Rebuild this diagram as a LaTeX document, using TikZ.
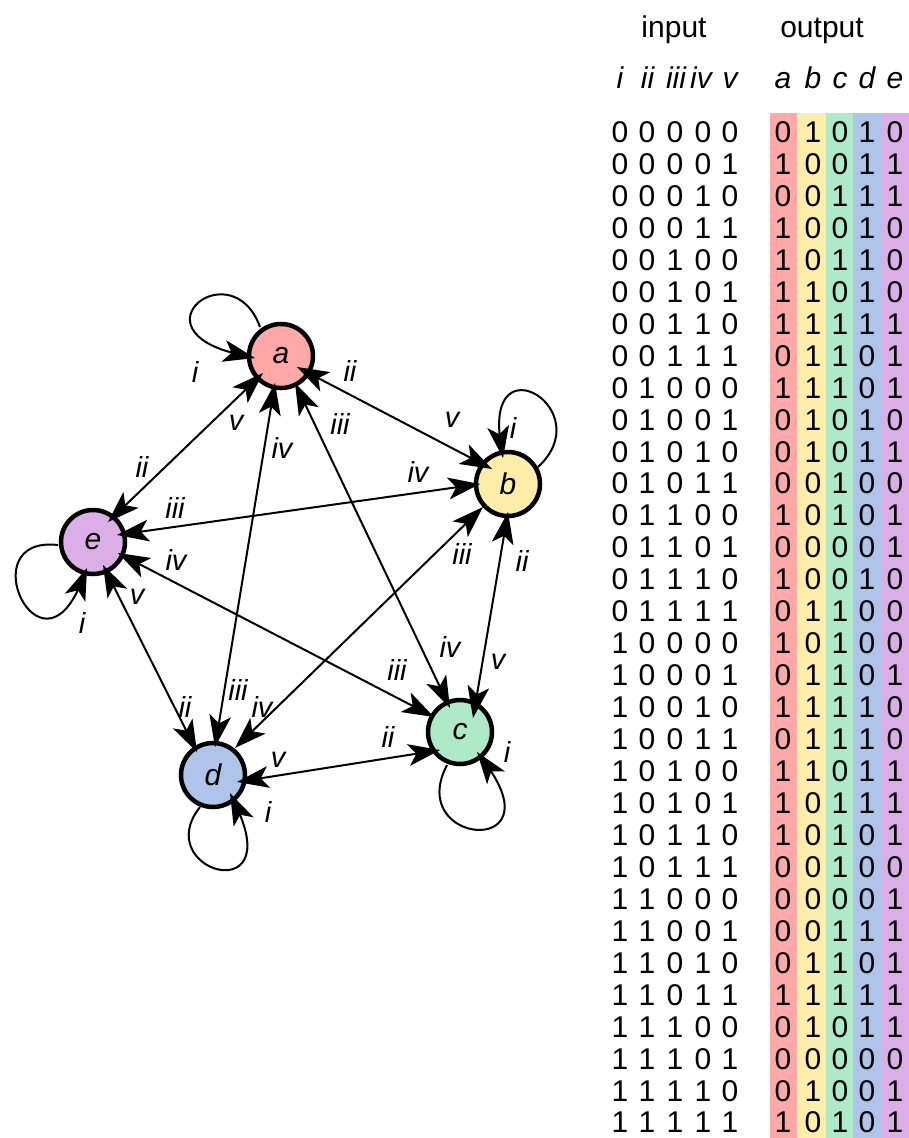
\documentclass[tikz,border=0pt]{standalone}
\usepackage{fontspec}
\setmainfont{Liberation Sans}
\usetikzlibrary{calc}
\definecolor{cA}{RGB}{255,168,168}
\definecolor{cB}{RGB}{255,237,170}
\definecolor{cC}{RGB}{174,234,200}
\definecolor{cD}{RGB}{174,196,232}
\definecolor{cE}{RGB}{220,174,232}
% filled stealth-like head: tip at #1, pointing away from #2
\newcommand\ahd[2]{%
  \path ($(#1)!32pt!(#2)$) coordinate (ahB) ($(#1)!24pt!(#2)$) coordinate (ahN);
  \fill[line join=miter] ($(ahB)!11pt!90:(#1)$) -- (#1) -- ($(ahB)!11pt!-90:(#1)$) -- (ahN) -- cycle;}
\tikzset{
  state/.style={circle,draw,line width=4.5pt,minimum size=64pt,inner sep=0pt,font=\fontsize{30}{33}\selectfont\itshape},
  lab/.style={inner sep=0pt,font=\fontsize{29}{32}\selectfont\itshape},
  edge/.style={line width=2pt,shorten <=16pt,shorten >=16pt},
  loopedge/.style={line width=2pt,shorten >=16pt},
  cell/.style={inner sep=0pt,anchor=base,font=\fontsize{30}{33}\selectfont},
  icell/.style={cell,font=\fontsize{30}{33}\selectfont\itshape},
}
\begin{document}
\begin{tikzpicture}[x=1pt,y=-1pt]
\useasboundingbox (0,0) rectangle (909,1138);
\fill[white] (0,0) rectangle (909,1138);

% ---------- graph ----------
\node[state,fill=cA] (a) at (281,356) {a};
\node[state,fill=cB] (b) at (508,484) {b};
\node[state,fill=cC] (c) at (460,732) {c};
\node[state,fill=cD] (d) at (213,775) {d};
\node[state,fill=cE] (e) at (93,542) {e};

\foreach \n/\p/\x/\y in {
  a/i/-26/2, a/ii/16/11, a/iii/14/27, a/iv/-6/27, a/v/-18/17,
  b/i/-5/-26, b/ii/0/28, b/iii/-25/23, b/iv/-28/0, b/v/-16/-15,
  c/i/17/20, c/ii/-20/18, c/iii/-26/-15, c/iv/-10/-24, c/v/13/-14,
  d/i/17/18, d/ii/-16/-23, d/iii/2/-28, d/iv/22/-27, d/v/24/7,
  e/i/-6/26, e/ii/15/-20, e/iii/24/-7, e/iv/25/11, e/v/10/23}
  \coordinate (\n-\p) at ($(\n)+(\x,\y)$);

% loop start and control points
\foreach \n/\sx/\sy/\px/\py/\qx/\qy in {
  a/-21/-29/-49/-106/-151/-26,
  b/30/-17/92/-74/-23/-144,
  e/-35/3/-123/-7/-53/143,
  d/-13/32/-63/95/72/135,
  c/-13/33/-55/113/95/126} {
  \coordinate (\n-s) at ($(\n)+(\sx,\sy)$);
  \coordinate (\n-p) at ($(\n)+(\px,\py)$);
  \coordinate (\n-q) at ($(\n)+(\qx,\qy)$);
}

% two-way connectors
\foreach \u/\v in {a-ii/b-v, a-iii/c-iv, a-iv/d-iii, a-v/e-ii, b-ii/c-v,
                   b-iii/d-iv, b-iv/e-iii, c-ii/d-v, c-iii/e-iv, d-ii/e-v} {
  \draw[edge] (\u) -- (\v);
  \ahd{\u}{\v}
  \ahd{\v}{\u}
}

% self-loops
\foreach \n in {a,b,c,d,e} {
  \draw[loopedge] (\n-s) .. controls (\n-p) and (\n-q) .. (\n-i);
  \ahd{\n-i}{\n-q}
}

\foreach \n/\t/\x/\y in {
  a/i/195/372, a/ii/350/371, a/iii/340/424, a/iv/282/448, a/v/236/423,
  b/v/452/420, b/i/513/428, b/iv/418/472, b/iii/462/554, b/ii/522/561,
  c/iv/450/647, c/v/498/662, c/iii/397/670, c/ii/388/737, c/i/507/752,
  d/ii/185/707, d/iii/238/690, d/iv/262/707, d/v/278/760, d/i/268/812,
  e/ii/142/467, e/iii/175/508, e/iv/176/560, e/v/137/597, e/i/82/623}
  \node[lab] (l-\n-\t) at (\x,\y) {\t};

% ---------- table ----------
\fill[cA] (770,113) rectangle (797,1138);
\fill[cB] (797,113) rectangle (826,1138);
\fill[cC] (826,113) rectangle (853,1138);
\fill[cD] (853,113) rectangle (881,1138);
\fill[cE] (881,113) rectangle (909,1138);

\node[cell] (hin) at (674,37.5) {input};
\node[cell] (hout) at (822,37.5) {output};
\foreach \t/\x [count=\k] in {i/620,ii/647.5,iii/676,iv/701,v/730,a/783,b/813,c/840,d/867,e/895}
  \node[icell] (h-\k) at (\x,88) {\t};

\foreach \row [count=\r] in {
  {0,0,0,0,0,0,1,0,1,0},
  {0,0,0,0,1,1,0,0,1,1},
  {0,0,0,1,0,0,0,1,1,1},
  {0,0,0,1,1,1,0,0,1,0},
  {0,0,1,0,0,1,0,1,1,0},
  {0,0,1,0,1,1,1,0,1,0},
  {0,0,1,1,0,1,1,1,1,1},
  {0,0,1,1,1,0,1,1,0,1},
  {0,1,0,0,0,1,1,1,0,1},
  {0,1,0,0,1,0,1,0,1,0},
  {0,1,0,1,0,0,1,0,1,1},
  {0,1,0,1,1,0,0,1,0,0},
  {0,1,1,0,0,1,0,1,0,1},
  {0,1,1,0,1,0,0,0,0,1},
  {0,1,1,1,0,1,0,0,1,0},
  {0,1,1,1,1,0,1,1,0,0},
  {1,0,0,0,0,1,0,1,0,0},
  {1,0,0,0,1,0,1,1,0,1},
  {1,0,0,1,0,1,1,1,1,0},
  {1,0,0,1,1,0,1,1,1,0},
  {1,0,1,0,0,1,1,0,1,1},
  {1,0,1,0,1,1,0,1,1,1},
  {1,0,1,1,0,1,0,1,0,1},
  {1,0,1,1,1,0,0,1,0,0},
  {1,1,0,0,0,0,0,0,0,1},
  {1,1,0,0,1,0,0,1,1,1},
  {1,1,0,1,0,0,1,1,0,1},
  {1,1,0,1,1,1,1,1,1,1},
  {1,1,1,0,0,0,1,0,1,1},
  {1,1,1,0,1,0,0,0,0,0},
  {1,1,1,1,0,0,1,0,0,1},
  {1,1,1,1,1,1,0,1,0,1}} {
  \pgfmathsetmacro{\yy}{142.5+31.95*(\r-1)}
  \foreach \v [count=\c] in \row {
    \pgfmathsetmacro{\xx}{{620,647,675,703,730,783,813,840,867,895}[\c-1]}
    \node[cell] (t-\r-\c) at (\xx,\yy) {\v};
  }
}
\end{tikzpicture}
\end{document}
